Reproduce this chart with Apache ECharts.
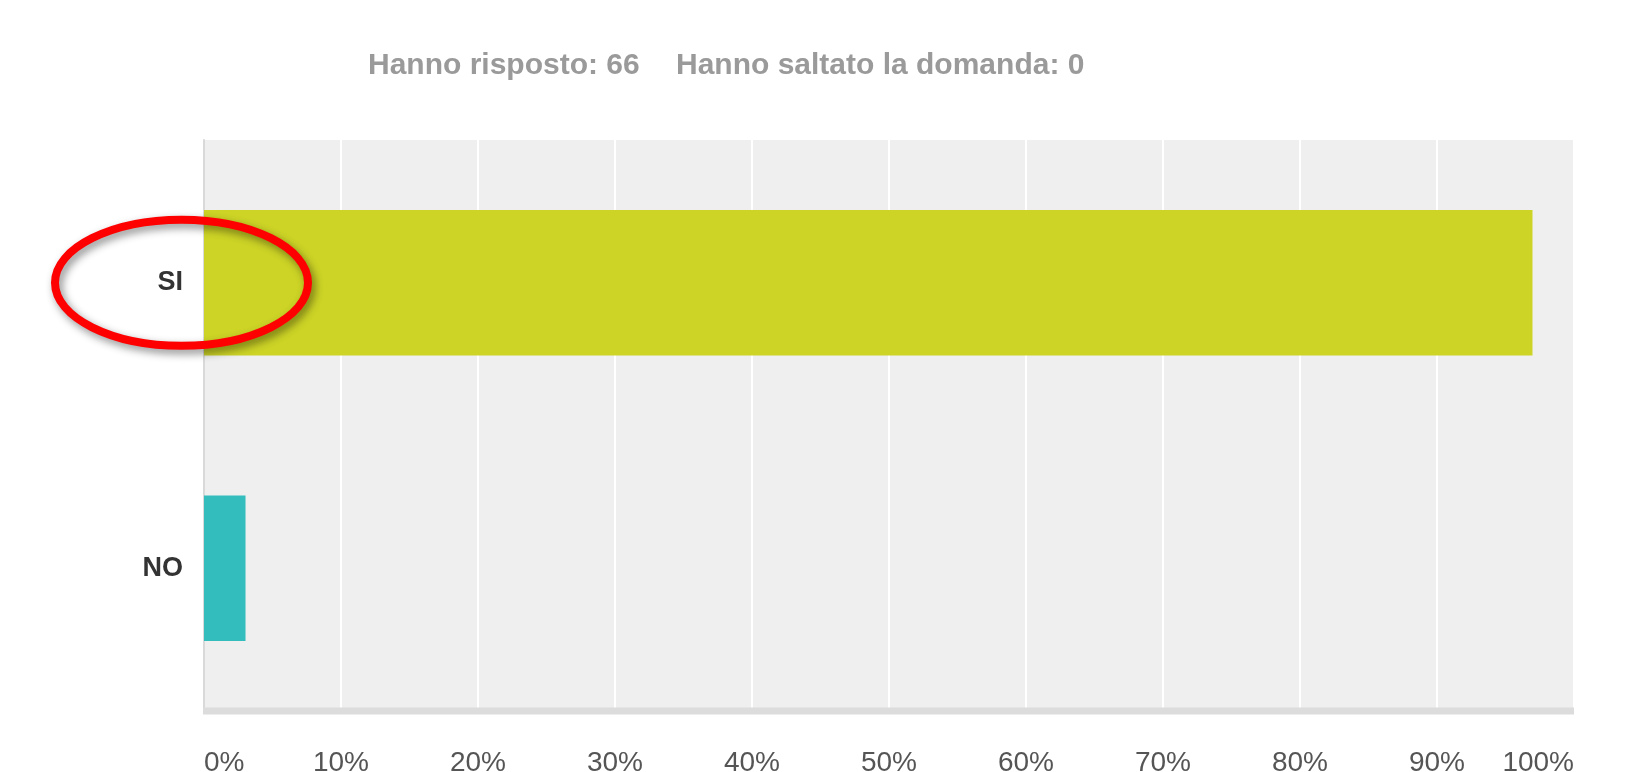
<!DOCTYPE html>
<html>
<head>
<meta charset="utf-8">
<script src="https://cdn.jsdelivr.net/npm/echarts@6/dist/echarts.min.js"></script>
<style>
  html, body { margin: 0; padding: 0; background: #ffffff; }
  #chart { width: 1627px; height: 772px; }
</style>
</head>
<body>
<div id="chart"></div>
<script>
// Survey answers (share of respondents, %)
const categories = ['SI', 'NO'];
const sharePct = [96.97, 3.03];
const barColors = ['#cdd426', '#34bdbd'];
const tickLabels = ['0%', '10%', '20%', '30%', '40%', '50%', '60%', '70%', '80%', '90%', '100%'];
const answeredText = 'Hanno risposto: 66';
const skippedText = 'Hanno saltato la domanda: 0';

const FONT = '"Liberation Sans", Arial, Helvetica, sans-serif';
const chart = echarts.init(document.getElementById('chart'), null, { renderer: 'canvas' });

chart.setOption({
  animation: false,
  backgroundColor: '#ffffff',
  title: [
    { text: answeredText, left: 363, top: 46,
      textStyle: { fontFamily: FONT, fontSize: 30, fontWeight: 'bold', color: '#9a9a9a' } },
    { text: skippedText, left: 671, top: 46,
      textStyle: { fontFamily: FONT, fontSize: 30, fontWeight: 'bold', color: '#9a9a9a' } }
  ],
  grid: {
    left: 204, right: 53, top: 140, bottom: 61,
    outerBoundsMode: 'none', containLabel: false,
    show: true, backgroundColor: '#efefef', borderWidth: 0
  },
  xAxis: {
    type: 'value', min: 0, max: 100, interval: 10,
    axisLine: { show: false },
    axisTick: { show: false },
    splitLine: { show: true, lineStyle: { color: '#ffffff', width: 2 } },
    axisLabel: {
      margin: 38,
      fontFamily: FONT, fontSize: 28, color: '#555555',
      alignMinLabel: 'left', alignMaxLabel: 'right',
      formatter: (v) => tickLabels[Math.round(v / 10)]
    }
  },
  yAxis: {
    type: 'category', data: categories, inverse: true,
    axisLine: { show: true, onZero: false, lineStyle: { color: '#d9d9d9', width: 2 } },
    axisTick: { show: false },
    axisLabel: { margin: 21, fontFamily: FONT, fontSize: 27, fontWeight: 'bold', color: '#333333' }
  },
  series: [{
    type: 'bar',
    barWidth: '51%',
    data: sharePct.map((v, i) => ({ value: v, itemStyle: { color: barColors[i] } })),
    silent: true
  }]
});

// bottom rule of the plot area and the red highlight around the "SI" answer
const siY = chart.convertToPixel({ yAxisIndex: 0 }, categories[0]);
const gridLeft = chart.convertToPixel({ xAxisIndex: 0 }, 0);
const gridRight = chart.convertToPixel({ xAxisIndex: 0 }, 100);
const bottomY = 711;

chart.setOption({
  graphic: [
    {
      type: 'line', z: 50,
      shape: { x1: gridLeft - 1, y1: bottomY, x2: gridRight, y2: bottomY },
      style: { stroke: '#dcdcdc', lineWidth: 7 }
    },
    {
      type: 'ellipse', z: 100,
      shape: { cx: gridLeft - 22.5, cy: siY, rx: 126.5, ry: 63 },
      style: {
        fill: 'none', stroke: '#ff0000', lineWidth: 8,
        shadowBlur: 8, shadowColor: 'rgba(0,0,0,0.45)', shadowOffsetX: 3, shadowOffsetY: 4
      }
    }
  ]
});
</script>
</body>
</html>
